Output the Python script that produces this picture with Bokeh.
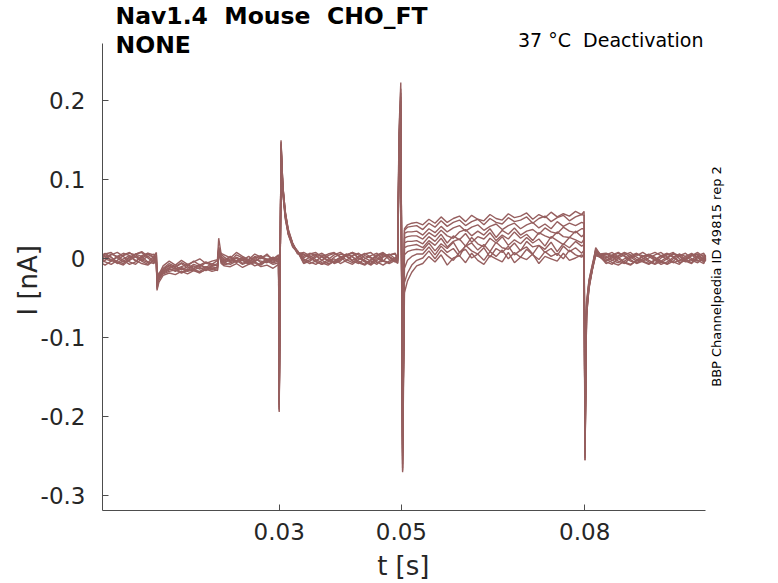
import math
from bokeh.plotting import figure
from bokeh.models import Range1d, FixedTicker, Label
from bokeh.embed import file_html
from bokeh.resources import INLINE

# time samples (ms), shared by all sweeps
t_ms = [
    0.8, 1.5, 2.5, 3.5, 4.5, 5.5, 6.5, 7.5, 8.5, 9.5, 9.9,
    10.0, 10.3, 11, 12, 13, 14, 15, 16, 17, 18, 19, 19.9,
    20.1, 20.5, 21, 22, 23, 24, 25, 26, 27, 28, 29, 29.9,
    30.0, 30.3, 30.6, 31.0, 31.5, 32.2, 33, 34, 35, 36, 37, 38, 39, 40, 41, 42,
    43, 44, 45, 46, 47, 48, 49, 49.4,
    49.6, 49.9, 50.2, 50.5, 51, 51.7, 52.5, 53.5, 54.5, 55.5, 56.5, 57.5, 58.5,
    59.5, 60.5, 61.5, 62.5, 63.5, 64.5, 65.5, 66.5, 67.5, 68.5, 69.5, 70.5, 71.5,
    72.5, 73.5, 74.5, 75.5, 76.5, 77.5, 78.5, 79.5, 79.9,
    80.05, 80.3, 80.7, 81.2, 81.8, 82.5, 83.5, 84.5, 85.5, 86.5, 87.5, 88.5, 89.5,
    90.5, 91.5, 92.5, 93.5, 94.5, 95.5, 96.5, 97.5, 98.5, 99.5, 99.8,
]

# current sweeps (pA)
trace_0 = [4, 7, 2, -5, -8, -1, 6, 3, -4, -6, 2,
           -30, -20, -9, -3, -8, -2, -7, -4, 0, -6, -3, -1,
           26, 6, 2, -3, 5, 1, -4, 3, 0, 6, -2, 4,
           -194, 150, 92, 58, 36, 19, 8,
           6, 2, -4, -7, -1, 5, 8, 3, -3, -6, 0, 4, 7, -2, -5, 1, 3,
           160, 223, -270, -43, -28, -17, -9,
           -6, 3, -4, 5, -8, 1, 4, -5, 7, -2, -7, 4, 0, -4, 8, -5, 2, -1, 6, -6, 3, 0, -3, 7, -2, 1, 5, 2,
           -255, -72, -38, -16, 4, 2,
           -4, -7, 1, 5, 8, 2, -3, -6, -1, 4, 7, 3, -5, -2, 6, 1, -4, 2]
trace_1 = [-6, -2, 5, 8, 3, -4, -7, 0, 6, 2, -3,
           -34, -24, -12, -6, -10, -5, -9, -3, -8, -4, -7, -2,
           12, 7, 5, 1, 8, 3, -1, 6, 2, 4, 0, 5,
           -180, 138, 88, 55, 33, 17, 10,
           -5, -1, 4, 7, 2, -6, -3, 5, 8, 1, -4, -8, -2, 3, 6, 0, -3,
           140, 205, -245, -30, -18, -8, -2,
           1, 10, 0, 11, 4, -2, 8, 12, 1, 6, -2, 9, 3, 11, 0, 8, 2, 12, 5, -1, 9, 3, 7, 0, 11, 5, 2, 6,
           -240, -65, -33, -14, 6, 3,
           5, 8, 2, -4, -7, -2, 3, 6, -1, -5, 0, 7, 4, -3, -6, 2, 5, -1]
trace_2 = [1, -4, -7, -2, 4, 7, 5, -1, -5, 3, 8,
           -28, -22, -13, -8, -11, -6, -12, -7, -10, -5, -9, -6,
           8, 4, -2, 3, -3, 2, -5, 1, 4, -1, 2, -2,
           -188, 145, 90, 60, 34, 20, 7,
           3, 7, 4, -2, -6, -4, 1, 6, 2, -3, -7, -1, 5, 8, 2, -4, 1,
           130, 190, -255, -12, -2, 3, 6,
           6, 15, 5, 16, 8, 13, 3, 17, 10, 6, 14, 2, 13, 8, 16, 5, 11, 15, 6, 17, 8, 13, 4, 16, 9, 14, 7, 11,
           -230, -60, -30, -12, 8, 4,
           0, -5, -8, -3, 2, 6, 4, -2, -6, 1, 5, 8, 0, -4, -1, 4, 7, 2]
trace_3 = [7, 3, -1, -6, -3, 2, 6, 8, 1, -5, -2,
           -36, -18, -14, -9, -13, -10, -7, -12, -8, -11, -6, -9,
           15, 2, 0, -4, 2, -2, 3, -3, 1, -1, -5, 2,
           -175, 130, 85, 52, 31, 16, 9,
           -2, -6, -3, 3, 6, 8, 2, -4, -7, -1, 4, 1, -5, -3, 5, 7, 0,
           120, 180, -235, 5, 9, 11, 12,
           11, 20, 10, 19, 13, 21, 8, 16, 20, 11, 18, 9, 21, 14, 12, 20, 10, 22, 15, 17, 12, 21, 9, 19, 14, 22, 16, 18,
           -220, -55, -28, -10, 10, 5,
           6, 2, -3, -6, 1, 4, 8, 3, -2, -7, -4, 2, 6, -1, -5, 3, 0, -3]
trace_4 = [-3, 1, 6, 3, -2, -7, -4, 4, 7, 0, -5,
           -32, -26, -16, -11, -9, -14, -10, -13, -7, -12, -9, -8,
           10, 0, -3, 2, -5, 1, -2, -4, 3, -3, 1, -1,
           -185, 142, 87, 56, 35, 18, 6,
           8, 4, -1, -5, -8, -3, 2, 5, 7, 1, -2, -6, 3, 6, -1, -4, 2,
           110, 170, -250, 14, 16, 17, 18,
           14, 23, 17, 26, 15, 22, 25, 16, 27, 19, 15, 26, 20, 28, 17, 24, 19, 27, 20, 25, 16, 28, 23, 18, 27, 24, 20, 25,
           -235, -62, -31, -13, 7, 2,
           -2, 3, 7, 4, -1, -6, -3, 1, 5, 8, 2, -4, -7, 0, 4, 6, -2, 1]
trace_5 = [2, 6, 8, 1, -4, -2, 3, -3, -7, -1, 5,
           -25, -21, -15, -12, -16, -11, -14, -9, -13, -10, -12, -11,
           6, -1, -4, -2, 1, -6, -1, 2, -5, 0, -3, -1,
           -170, 135, 82, 50, 30, 15, 8,
           0, -4, -7, -2, 4, 7, 3, -1, -5, 2, 6, 8, 1, -3, -6, -2, 4,
           125, 185, -225, 20, 22, 22, 23,
           19, 28, 22, 31, 20, 29, 24, 32, 21, 28, 25, 33, 23, 30, 25, 34, 26, 31, 23, 33, 29, 26, 34, 28, 27, 35, 28, 31,
           -225, -58, -27, -9, 12, 6,
           7, 4, 0, -5, -8, -2, 3, 5, 1, -3, -6, 0, 6, 3, -2, -5, 1, 4]
trace_6 = [-5, -8, -3, 2, 5, 8, 2, -2, 3, 6, -1,
           -29, -23, -17, -13, -15, -12, -16, -14, -11, -15, -10, -12,
           9, -3, -6, 0, -4, -2, -7, -1, -3, -5, 0, -4,
           -183, 148, 91, 57, 33, 18, 10,
           -3, 2, 6, 3, -2, -5, -1, 4, 8, 5, -3, -6, 0, 5, 2, -3, -6,
           115, 175, -240, 26, 28, 29, 29,
           25, 33, 28, 36, 29, 26, 34, 37, 29, 35, 30, 38, 27, 36, 31, 39, 30, 35, 37, 31, 39, 34, 32, 40, 35, 33, 38, 38,
           -245, -68, -35, -15, 9, 4,
           -3, 1, 4, 8, 5, -1, -4, -7, -2, 3, 6, 2, -3, 1, 5, -2, -6, 0]
trace_7 = [4, 0, -3, 3, 7, 4, -2, -6, -8, -2, 4,
           -38, -27, -18, -14, -12, -17, -13, -15, -16, -11, -14, -10,
           14, -2, -5, -7, -3, -1, -6, -4, -8, -2, -5, -3,
           -190, 140, 89, 54, 32, 19, 7,
           5, 1, -3, -7, -4, 2, 6, 4, -2, 3, 7, 2, -4, -8, -3, 1, 5,
           135, 200, -260, 32, 34, 34, 35,
           30, 38, 33, 41, 34, 39, 42, 35, 40, 43, 36, 41, 44, 37, 42, 45, 38, 43, 46, 39, 44, 38, 47, 41, 45, 42, 46, 45,
           -250, -70, -36, -15, 5, 3,
           -6, -2, 3, 7, 2, -3, 0, 5, 8, 4, -1, -5, -2, 3, 7, 2, -3, 1]
trace_8 = [-1, 5, 2, -4, -6, 1, 6, 9, 3, -3, -6,
           -33, -25, -19, -16, -14, -18, -15, -13, -17, -14, -12, -15,
           7, -4, -8, -5, -2, -7, -4, -9, -6, -3, -7, -5,
           -178, 132, 84, 53, 31, 17, 9,
           -6, -3, 2, 5, 1, -4, -1, 6, 3, -5, -8, -2, 4, 7, 3, -2, -5,
           145, 210, -265, 36, 40, 41, 42,
           37, 45, 40, 48, 41, 46, 49, 42, 47, 50, 43, 51, 46, 44, 52, 47, 49, 53, 45, 51, 54, 47, 52, 55, 48, 53, 56, 55,
           -252, -66, -34, -14, 11, 5,
           3, -2, -5, 0, 4, 7, 1, -4, -7, -3, 2, 6, 3, -2, 4, 8, 2, -3]
trace_9 = [6, 3, -2, -5, 0, 4, -3, 2, 7, 5, -4,
           -40, -30, -21, -18, -20, -16, -19, -15, -18, -13, -16, -14,
           11, -6, -9, -10, -6, -11, -7, -5, -10, -8, -12, -7,
           -192, 146, 93, 59, 37, 20, 8,
           1, 6, 8, 2, -3, 0, -6, -2, 4, 7, 1, -3, -7, 2, 5, 6, -2,
           155, 215, -268, 38, 43, 45, 46,
           43, 50, 45, 53, 46, 51, 54, 47, 55, 50, 48, 56, 51, 49, 57, 52, 54, 58, 50, 56, 52, 59, 53, 57, 54, 60, 56, 60,
           -255, -74, -37, -16, 14, 6,
           1, 5, 8, 3, -3, -5, -1, 5, 2, -4, -7, -3, 4, 7, 0, -3, 2, 5]

traces = [trace_0, trace_1, trace_2, trace_3, trace_4,
          trace_5, trace_6, trace_7, trace_8, trace_9]

xtick_values = [0.03, 0.05, 0.08]
xtick_labels = ["0.03", "0.05", "0.08"]
ytick_values = [-0.3, -0.2, -0.1, 0.0, 0.1, 0.2]
ytick_labels = ["-0.3", "-0.2", "-0.1", "0", "0.1", "0.2"]

NB = "\u00a0"
title_lines = ["Nav1.4 " + NB + "Mouse " + NB + "CHO_FT", "NONE"]
condition_text = "37 °C " + NB + "Deactivation"
side_text = "BBP Channelpedia ID 49815 rep 2"
x_label = "t [s]"
y_label = "I [nA]"

for tr in traces:
    assert len(tr) == len(t_ms), (len(tr), len(t_ms))

FONT = "DejaVu Sans"
TXT = "#262626"
AX = "#4d4d4d"
LINE = "#965f5f"

# axis extents (data units) and the full view ranges
x_bounds = (0.00108, 0.09977)
y_bounds = (-0.3185, 0.2726)

p = figure(width=778, height=583, output_backend="svg", toolbar_location=None,
           x_range=Range1d(0.00108, 0.11172), y_range=Range1d(-0.3185, 0.3268),
           min_border_left=102, min_border_right=0, min_border_top=0,
           min_border_bottom=71)
p.grid.visible = False
p.outline_line_color = None
p.background_fill_color = "white"
p.border_fill_color = "white"

xs = [[t / 1000.0 for t in t_ms] for _ in traces]
ys = [[v / 1000.0 for v in tr] for tr in traces]
p.multi_line(xs, ys, line_color=LINE, line_width=1.4)

for ax in (p.xaxis[0], p.yaxis[0]):
    ax.axis_line_color = AX
    ax.axis_line_width = 1
    ax.major_tick_line_color = AX
    ax.major_tick_in = 6
    ax.major_tick_out = 0
    ax.minor_tick_line_color = None
    ax.major_label_text_font = FONT
    ax.major_label_text_font_size = "23px"
    ax.major_label_text_color = TXT
    ax.axis_label_text_font = FONT
    ax.axis_label_text_font_size = "26px"
    ax.axis_label_text_font_style = "normal"
    ax.axis_label_text_color = TXT

# the axis labels are centred on the whole frame; non-breaking padding
# moves them to the centre of the drawn axis extent, as in the reference
p.xaxis[0].bounds = x_bounds
p.xaxis[0].ticker = FixedTicker(ticks=xtick_values)
p.xaxis[0].major_label_overrides = dict(zip(xtick_values, xtick_labels))
p.xaxis[0].major_label_standoff = 12
p.xaxis[0].axis_label = x_label + NB * 9
p.xaxis[0].axis_label_standoff = 8

p.yaxis[0].bounds = y_bounds
p.yaxis[0].ticker = FixedTicker(ticks=ytick_values)
p.yaxis[0].major_label_overrides = dict(zip(ytick_values, ytick_labels))
p.yaxis[0].major_label_standoff = 17
p.yaxis[0].axis_label = y_label + NB * 6
p.yaxis[0].axis_label_standoff = -5

# titles and annotations (screen units relative to plot frame bottom-left)
p.add_layout(Label(x=13, y=495, x_units="screen", y_units="screen", text=title_lines[0],
                   text_font=FONT, text_font_style="bold", text_font_size="23.5px",
                   text_color="black", text_baseline="alphabetic", text_align="left"))
p.add_layout(Label(x=13, y=466, x_units="screen", y_units="screen", text=title_lines[1],
                   text_font=FONT, text_font_style="bold", text_font_size="23.5px",
                   text_color="black", text_baseline="alphabetic", text_align="left"))
p.add_layout(Label(x=601, y=471, x_units="screen", y_units="screen", text=condition_text,
                   text_font=FONT, text_font_size="19px", text_color="black",
                   text_baseline="alphabetic", text_align="right"))
p.add_layout(Label(x=614, y=234, x_units="screen", y_units="screen", text=side_text,
                   angle=math.pi / 2, text_font=FONT, text_font_size="13px",
                   text_color="black", text_baseline="middle", text_align="center"))

open("out.html", "w").write(file_html(p, INLINE))
